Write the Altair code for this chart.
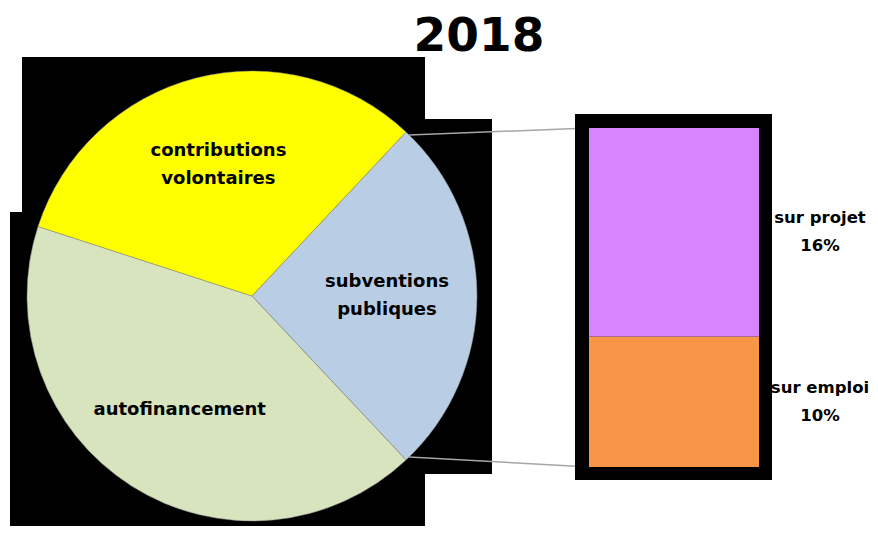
import math
import altair as alt
import pandas as pd

# ---- data ----
title_text = "2018"
pie_labels = ["subventions\npubliques", "autofinancement", "contributions\nvolontaires"]
pie_values = [26, 42, 32]
pie_colors = ["#B9CDE5", "#D7E4BD", "#FFFF00"]
bar_labels = ["sur emploi", "sur projet"]
bar_values = [10, 16]
bar_colors = ["#F79646", "#D883FF"]

# ---- layout ----
W, H = 862, 518
CX, CY, R = 244, 288, 225
LABEL_R = 135
FONT = "DejaVu Sans"
FS = 18
FS_BAR = 16.5
LH = 28
BAR_X0, BAR_X1, BAR_Y0, BAR_Y1 = 581, 751, 459, 120
BORDER = 14

pie_df = pd.DataFrame({
    "cat": pie_labels,
    "value": pie_values,
    "idx": list(range(len(pie_labels))),
})
pie_df["multi"] = [t if "\n" in t else "" for t in pie_labels]
pie_df["single"] = [t if "\n" not in t else "" for t in pie_labels]

bar_total = sum(bar_values)
y0s, y1s, mids = [], [], []
acc = 0
for v in bar_values:
    y0s.append(acc)
    y1s.append(acc + v)
    mids.append(acc + v / 2)
    acc += v
bar_df = pd.DataFrame({
    "cat": bar_labels,
    "value": bar_values,
    "y0": y0s,
    "y1": y1s,
    "mid": mids,
    "label": [f"{n}\n{v}%" for n, v in zip(bar_labels, bar_values)],
})

color_scale = alt.Scale(domain=pie_labels + bar_labels, range=pie_colors + bar_colors)
start = math.pi / 2 - (pie_values[0] / sum(pie_values)) * math.pi
theta_scale = alt.Scale(range=[start, start + 2 * math.pi])
y_scale = alt.Scale(domain=[0, bar_total], range=[BAR_Y0, BAR_Y1])

dummy = pd.DataFrame({"a": [0]})

def rect(x0, x1, y0, y1, color="black"):
    return alt.Chart(dummy).mark_rect(color=color).encode(
        x=alt.value(x0), x2=alt.value(x1), y=alt.value(y0), y2=alt.value(y1)
    )

# black backdrop blocks behind the pie
backdrops = [
    rect(14, 417, 49, H),
    rect(2, 14, 204, H),
    rect(417, 484, 111, 466),
]

pie = alt.Chart(pie_df).mark_arc(outerRadius=R, stroke="#8a8a8a", strokeWidth=0.5).encode(
    theta=alt.Theta("value:Q", stack=True, scale=theta_scale),
    color=alt.Color("cat:N", scale=color_scale, legend=None),
    order=alt.Order("idx:Q"),
    x=alt.value(CX), y=alt.value(CY),
)

def pie_text(field, dy):
    return alt.Chart(pie_df).mark_text(
        radius=LABEL_R, font=FONT, fontSize=FS, fontWeight="bold", lineBreak="\n",
        lineHeight=LH, color="black", align="center", baseline="middle", dy=dy,
    ).encode(
        theta=alt.Theta("value:Q", stack=True, scale=theta_scale),
        order=alt.Order("idx:Q"),
        text=f"{field}:N",
        x=alt.value(CX), y=alt.value(CY),
    )

def rule(x0, y0, x1, y1):
    return alt.Chart(dummy).mark_rule(color="#A6A6A6", strokeWidth=1.5).encode(
        x=alt.value(x0), y=alt.value(y0), x2=alt.value(x1), y2=alt.value(y1)
    )

connectors = [rule(401, 127, BAR_X0, 120), rule(401, 449, BAR_X0, 459)]

bar_border = rect(BAR_X0 - BORDER, BAR_X1 + 13, BAR_Y1 - BORDER, BAR_Y0 + 13)

bar = alt.Chart(bar_df).mark_rect().encode(
    x=alt.value(BAR_X0), x2=alt.value(BAR_X1),
    y=alt.Y("y0:Q", scale=y_scale, axis=None),
    y2="y1:Q",
    color=alt.Color("cat:N", scale=color_scale, legend=None),
)

bar_text = alt.Chart(bar_df).mark_text(
    font=FONT, fontSize=FS_BAR, fontWeight="bold", lineBreak="\n", lineHeight=LH,
    color="black", align="center", baseline="middle", dy=-LH / 2,
).encode(
    x=alt.value(812),
    y=alt.Y("mid:Q", scale=y_scale, axis=None),
    text="label:N",
)

title = alt.Chart(pd.DataFrame({"t": [title_text]})).mark_text(
    font="DejaVu Sans", fontSize=47, fontWeight="bold", color="black",
    align="center", baseline="alphabetic",
).encode(x=alt.value(471), y=alt.value(43), text="t:N")

chart = alt.layer(
    *backdrops, pie, pie_text("multi", -LH / 2), pie_text("single", 0),
    *connectors, bar_border, bar, bar_text, title
).properties(
    width=W, height=H, padding=0, autosize=alt.AutoSizeParams(type="none")
).configure_view(stroke=None)

chart.save("out.html", embed_options={"renderer": "svg", "actions": False})
